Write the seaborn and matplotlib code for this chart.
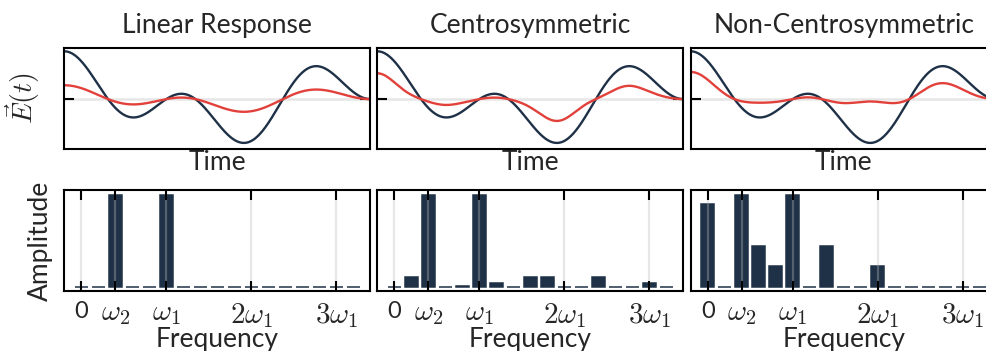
import numpy as np
import matplotlib
matplotlib.use("Agg")
import matplotlib.pyplot as plt
import seaborn as sns

# Driving field: sum of two cosines, frequencies in spectral-bin units
field_freqs = [5, 2]          # omega_1, omega_2
field_amps = [1.0, 1.0]

panel_titles = ["Linear Response", "Centrosymmetric", "Non-Centrosymmetric"]

# Response of each medium: P = chi1*E + chi2*E^2 + chi3*E^3
chi1 = [0.29, 0.28, 0.30]
chi2 = [0.0, 0.0, 0.134]
chi3 = [0.0, 0.065, 0.0]

# Normalised amplitude spectra of the responses
freq_bins = list(range(17))
linear_spectrum = [0, 0, 1, 0, 0, 1, 0, 0, 0, 0, 0, 0, 0, 0, 0, 0, 0]
centro_spectrum = [0, 0.105, 1, 0, 0.01, 1, 0.044, 0, 0.105, 0.105, 0, 0, 0.105, 0, 0, 0.044, 0]
noncentro_spectrum = [0.9, 0, 1, 0.45, 0.23, 1, 0, 0.45, 0, 0, 0.23, 0, 0, 0, 0, 0, 0]
spectra = [linear_spectrum, centro_spectrum, noncentro_spectrum]

tick_freqs = [0, 2, 5, 10, 15]
tick_labels = ["0", r"$\omega_2$", r"$\omega_1$", r"$2\omega_1$", r"$3\omega_1$"]

DARK = "#1f3147"
RED = "#e2413b"
GRID = "#bbbbbb"

sns.set_theme(style="white")
plt.rcParams["font.family"] = ["Lato", "DejaVu Sans"]
plt.rcParams["mathtext.fontset"] = "cm"
plt.rcParams["axes.edgecolor"] = "black"
plt.rcParams["axes.linewidth"] = 1.5

FS = 19
MATH_FS = 21
ZERO_FS = 17

fig = plt.figure(figsize=(9.87, 3.51), dpi=100)

t = np.linspace(0, np.pi, 800)
field = sum(a * np.cos(w * t) for w, a in zip(field_freqs, field_amps))

lefts = [64.3, 377.3, 690.7]
W, H = 987.0, 351.0
ax_w = 306.0 / W
ax_h = 101.6 / H
top_bottom = 1 - 149.3 / H
bot_bottom = 1 - 291.3 / H

for i in range(3):
    x0 = lefts[i] / W

    # --- time domain ---
    ax = fig.add_axes([x0, top_bottom, ax_w, ax_h])
    response = chi1[i] * field + chi2[i] * field**2 + chi3[i] * field**3
    sns.lineplot(x=t, y=field, ax=ax, color=DARK, linewidth=1.7)
    sns.lineplot(x=t, y=response, ax=ax, color=RED, linewidth=1.7)
    ax.set_xlim(0, np.pi)
    ax.set_ylim(-2.1, 2.15)
    ax.set_xticks([])
    ax.set_yticks([0])
    ax.set_yticklabels([])
    ax.tick_params(axis="y", direction="in", length=7, width=1.5,
                   left=True, right=True, color="black")
    ax.set_axisbelow(True)
    ax.yaxis.grid(True, color="#e6e6e6", linewidth=1.8)
    ax.xaxis.grid(False)
    ax.set_xlabel("Time", fontsize=FS)
    ax.xaxis.set_label_coords(0.5, -0.01)
    ax.set_ylabel("")
    ax.set_title(panel_titles[i], fontsize=FS, pad=10.5)
    if i == 0:
        ax.set_ylabel(r"$\vec{E}(t)$", fontsize=20)
        ax.yaxis.set_label_coords(-0.072, 0.5)
    for s in ax.spines.values():
        s.set_linewidth(1.5)
        s.set_color("black")

    # --- frequency domain ---
    bx = fig.add_axes([x0, bot_bottom, ax_w, ax_h])
    sns.barplot(x=freq_bins, y=spectra[i], ax=bx, native_scale=True,
                color=DARK, saturation=1, width=0.78, edgecolor=DARK,
                linewidth=1.1, errorbar=None)
    bx.set_xlim(-1, 17)
    bx.set_ylim(-0.05, 1.06)
    bx.set_yticks([])
    bx.set_xticks(tick_freqs)
    bx.set_xticklabels(tick_labels)
    for lbl in bx.get_xticklabels():
        lbl.set_fontsize(ZERO_FS if lbl.get_text() == "0" else MATH_FS)
    bx.tick_params(axis="x", direction="in", length=7, width=1.5,
                   bottom=True, top=True, color="black", pad=7)
    bx.set_axisbelow(False)
    bx.xaxis.grid(True, color=GRID, alpha=0.35, linewidth=1.6)
    bx.yaxis.grid(False)
    bx.set_xlabel("Frequency", fontsize=FS)
    bx.xaxis.set_label_coords(0.5, -0.355)
    bx.set_ylabel("")
    if i == 0:
        bx.set_ylabel("Amplitude", fontsize=FS)
        bx.yaxis.set_label_coords(-0.037, 0.5)
    for s in bx.spines.values():
        s.set_linewidth(1.5)
        s.set_color("black")

fig.savefig("out.png", dpi=100)
